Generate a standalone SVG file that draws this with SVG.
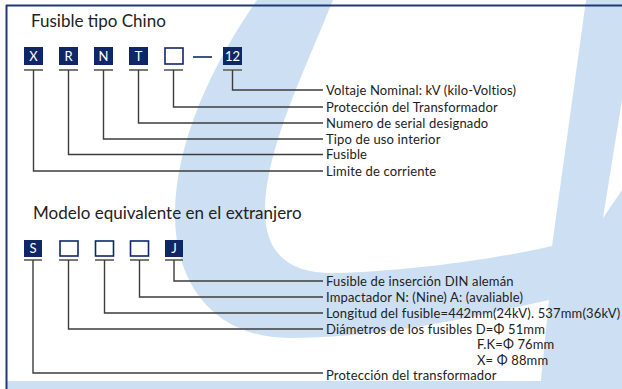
<svg xmlns="http://www.w3.org/2000/svg" width="622" height="389" viewBox="0 0 622 389">
<defs>
<style>
.wm{fill:#cde0f3}
.title{font-family:Lato,"Liberation Sans",sans-serif;font-size:17px;fill:#222}
.lbl{font-family:Lato,"Liberation Sans",sans-serif;font-size:13px;letter-spacing:0.15px;fill:#222}
.bx{fill:#0f2767}
.bo{fill:#fff;stroke:#0f2767;stroke-width:1.6}
.bt{font-family:Lato,"Liberation Sans",sans-serif;font-size:13px;fill:#fff;text-anchor:middle}
.ul{stroke:#7a7a7a;stroke-width:2}
.cn{fill:none;stroke:#3c3c3c;stroke-width:1.4}
</style>
</defs>
<rect x="0" y="0" width="622" height="389" fill="#fff"/>
<g id="watermark">
<path class="wm" d="M257,0 L333,0 C305,70 265,150 265,210 C265,255 290,275 340,273 C420,270 500,258 552,246 L586,0 L622,0 L622,100 L603,218 L622,190 L622,389 L540,389 L549,300 C470,318 380,338 290,338 C215,338 175,285 175,215 C175,140 215,60 257,0 Z"/>
</g>
<rect x="7" y="381" width="615" height="8" class="wm"/>
<g id="frame">
<line x1="6" y1="5.5" x2="622" y2="5.5" stroke="#1f3a73" stroke-width="2"/>
<line x1="6.5" y1="5" x2="6.5" y2="389" stroke="#1f3a73" stroke-width="2"/>
</g>
<text class="title" x="31" y="27">Fusible tipo Chino</text>
<text class="title" x="33" y="219">Modelo equivalente en el extranjero</text>
<g id="n-X"><rect class="bx" x="24" y="47" width="19" height="18"/><text class="bt" x="33.5" y="61">X</text></g>
<g id="n-R"><rect class="bx" x="59" y="47" width="19" height="18"/><text class="bt" x="68.5" y="61">R</text></g>
<g id="n-N"><rect class="bx" x="94" y="47" width="19" height="18"/><text class="bt" x="103.5" y="61">N</text></g>
<g id="n-T"><rect class="bx" x="129" y="47" width="19" height="18"/><text class="bt" x="138.5" y="61">T</text></g>
<g id="n-B1"><rect class="bo" x="165" y="48" width="18" height="16"/></g>
<g id="n-12"><rect class="bx" x="223" y="47" width="19" height="18"/><text class="bt" x="232.5" y="61">12</text></g>
<line x1="193" y1="57" x2="212" y2="57" stroke="#0f2767" stroke-width="1.6"/>
<g id="n-S"><rect class="bx" x="24" y="240" width="18" height="17"/><text class="bt" x="33" y="253">S</text></g>
<g id="n-B2"><rect class="bo" x="60" y="241" width="18" height="15"/></g>
<g id="n-B3"><rect class="bo" x="95.5" y="241" width="18" height="15"/></g>
<g id="n-B4"><rect class="bo" x="130.5" y="241" width="18" height="15"/></g>
<g id="n-J"><rect class="bx" x="165" y="240" width="18" height="17"/><text class="bt" x="174" y="253">J</text></g>
<g id="connectors">
<g class="ul">
<line x1="24" y1="70" x2="43" y2="70"/><line x1="59" y1="70" x2="78" y2="70"/><line x1="94" y1="70" x2="113" y2="70"/><line x1="129" y1="70" x2="148" y2="70"/><line x1="164" y1="70" x2="183" y2="70"/><line x1="223" y1="70" x2="242" y2="70"/>
<line x1="24" y1="260" x2="42" y2="260"/><line x1="59" y1="260" x2="78" y2="260"/><line x1="95" y1="260" x2="114" y2="260"/><line x1="130" y1="260" x2="149" y2="260"/><line x1="165" y1="260" x2="183" y2="260"/>
</g>
<path class="cn" d="M232.5,70 V90 H323"/>
<path class="cn" d="M173.5,70 V107 H323"/>
<path class="cn" d="M138.5,70 V123 H323"/>
<path class="cn" d="M103.5,70 V139 H323"/>
<path class="cn" d="M68.5,70 V154.5 H323"/>
<path class="cn" d="M33.5,70 V171 H323"/>
<path class="cn" d="M174,260 V281 H323"/>
<path class="cn" d="M139.5,260 V297 H323"/>
<path class="cn" d="M104.5,260 V313 H323"/>
<path class="cn" d="M68.5,260 V329 H323"/>
<path class="cn" d="M33,260 V373 H323"/>
</g>
<g id="labels">
<text class="lbl" x="326" y="94.5">Voltaje Nominal: kV (kilo-Voltios)</text>
<text class="lbl" x="326" y="111.5">Protección del Transformador</text>
<text class="lbl" x="326" y="127.5">Numero de serial designado</text>
<text class="lbl" x="326" y="143.5">Tipo de uso interior</text>
<text class="lbl" x="326" y="159">Fusible</text>
<text class="lbl" x="326" y="175.5">Limite de corriente</text>
<text class="lbl" x="326" y="285.5">Fusible de inserción DIN alemán</text>
<text class="lbl" x="326" y="301.5">Impactador N: (Nine) A: (avaliable)</text>
<text class="lbl" x="326" y="317.5">Longitud del fusible=442mm(24kV). 537mm(36kV)</text>
<text class="lbl" x="326" y="333.5">Diámetros de los fusibles D=Φ 51mm</text>
<text class="lbl" x="477" y="348.5">F.K=Φ 76mm</text>
<text class="lbl" x="477" y="364.5">X= Φ 88mm</text>
<text class="lbl" x="326" y="379.5">Protección del transformador</text>
</g>
</svg>
